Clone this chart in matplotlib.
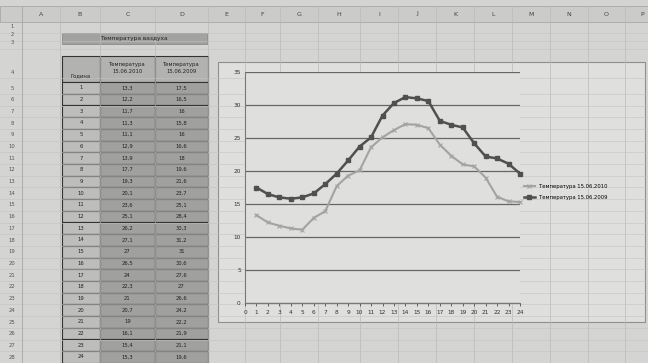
import matplotlib
matplotlib.use("Agg")
import matplotlib.pyplot as plt
from matplotlib.patches import Rectangle

# ---------------- data ----------------
hours = list(range(1, 25))
temp_2010 = [13.3, 12.2, 11.7, 11.3, 11.1, 12.9, 13.9, 17.7, 19.3, 20.1, 23.6, 25.1,
             26.2, 27.1, 27.0, 26.5, 24.0, 22.3, 21.0, 20.7, 19.0, 16.1, 15.4, 15.3]
temp_2009 = [17.5, 16.5, 16.0, 15.8, 16.0, 16.6, 18.0, 19.6, 21.6, 23.7, 25.1, 28.4,
             30.3, 31.2, 31.0, 30.6, 27.6, 27.0, 26.6, 24.2, 22.2, 21.9, 21.1, 19.6]
series_names = ["Температура 15.06.2010", "Температура 15.06.2009"]
table_title = "Температура ваздуха"
col_headers = ["Година", "Температура\n15.06.2010", "Температура\n15.06.2009"]
sheet_columns = ["A", "B", "C", "D", "E", "F", "G", "H", "I", "J", "K", "L", "M", "N", "O", "P"]
x_ticks = list(range(0, 25))
y_ticks = list(range(0, 40, 5))

W, H = 648, 363
fig = plt.figure(figsize=(W / 100, H / 100), dpi=100)
fig.patch.set_facecolor("#d4d4d2")

# background axes in pixel coordinates (y downward)
bg = fig.add_axes([0, 0, 1, 1])
bg.set_xlim(0, W)
bg.set_ylim(H, 0)
bg.axis("off")

# column header strip
bg.add_patch(Rectangle((0, 6), W, 16, facecolor="#cbcbc9", edgecolor="#a8a8a8", lw=0.6))
col_edges = [22, 60, 100, 155, 208, 245, 280, 318, 360, 398, 436, 474, 512, 550, 588, 625, 660]
for i, name in enumerate(sheet_columns):
    cx = (col_edges[i] + col_edges[i + 1]) / 2
    bg.text(cx, 14, name, ha="center", va="center", fontsize=4.5, color="#444444")
for e in col_edges:
    bg.plot([e, e], [6, H], color="#bababa", lw=0.5)

# row numbers
row_y = [27, 35, 43, 72] + [88 + 11.7 * i for i in range(24)]
for i, y in enumerate(row_y):
    bg.text(12, y, str(i + 1), ha="center", va="center", fontsize=3.8, color="#555555")
    bg.plot([0, W], [y + 5.85, y + 5.85], color="#c3c3c1", lw=0.4)
bg.plot([22, 22], [6, H], color="#aaaaaa", lw=0.6)

# title cell
bg.add_patch(Rectangle((62, 33), 145, 11, facecolor="#a2a2a0", edgecolor="#8a8a8a", lw=0.6))
bg.text(134, 38.5, table_title, ha="center", va="center", fontsize=4.2, color="#222222")

# table
tx = [62, 100, 155, 208]
head_top, head_bot = 56, 82
fills = ["#bdbdbb", "#a0a09e", "#a0a09e"]
for j in range(3):
    bg.add_patch(Rectangle((tx[j], head_top), tx[j + 1] - tx[j], head_bot - head_top,
                           facecolor="#b2b2b0", edgecolor="#333333", lw=0.8))
bg.text((tx[0] + tx[1]) / 2, 76, col_headers[0], ha="center", va="center", fontsize=3.8, color="#222222")
for j in (1, 2):
    bg.text((tx[j] + tx[j + 1]) / 2, 68, col_headers[j], ha="center", va="center",
            fontsize=3.8, color="#222222", linespacing=1.5)

def fmt(v):
    s = ("%.1f" % v).rstrip("0").rstrip(".")
    return s.replace(".", ",")

rh = 11.7
for i, h in enumerate(hours):
    top = head_bot + i * rh
    vals = [str(h), fmt(temp_2010[i]), fmt(temp_2009[i])]
    for j in range(3):
        bg.add_patch(Rectangle((tx[j], top), tx[j + 1] - tx[j], rh,
                               facecolor=fills[j], edgecolor="#333333", lw=0.8))
        bg.text((tx[j] + tx[j + 1]) / 2, top + rh / 2, vals[j], ha="center", va="center",
                fontsize=3.8, color="#222222")

# chart area
bg.add_patch(Rectangle((218, 62), 427, 260, facecolor="#dfdfdd", edgecolor="#8f8f8f", lw=0.8))

# plot axes
ax = fig.add_axes([245 / W, 60 / H, 275 / W, 231 / H])
ax.set_facecolor("#dfdfdd")
ax.set_xlim(0, 24)
ax.set_ylim(0, 35)
for s in ["top", "right"]:
    ax.spines[s].set_visible(False)
ax.spines["left"].set_color("#777777")
ax.spines["bottom"].set_color("#777777")
ax.spines["left"].set_linewidth(0.8)
ax.spines["bottom"].set_linewidth(0.8)
ax.set_xticks(x_ticks)
ax.set_yticks(y_ticks)
ax.tick_params(axis="both", labelsize=4.2, colors="#333333", length=2, width=0.5, pad=3)
ax.tick_params(axis="y", length=0)
ax.yaxis.grid(True, color="#666666", lw=0.9)
ax.set_axisbelow(True)

l1, = ax.plot(hours, temp_2010, color="#a3a3a1", lw=1.5, marker="x", ms=2.5, mew=0.8,
              label=series_names[0])
l2, = ax.plot(hours, temp_2009, color="#505050", lw=1.8, marker="s", ms=3.2,
              label=series_names[1])
for ln in (l1, l2):
    ln.set_clip_on(False)

fig.legend(handles=[l1, l2], labels=series_names, loc="center left",
           bbox_to_anchor=(522 / W, 1 - 192 / H), frameon=False, fontsize=3.8,
           handlelength=2.0, labelspacing=1.2, borderaxespad=0)

fig.savefig("out.png", dpi=100, facecolor=fig.get_facecolor())
